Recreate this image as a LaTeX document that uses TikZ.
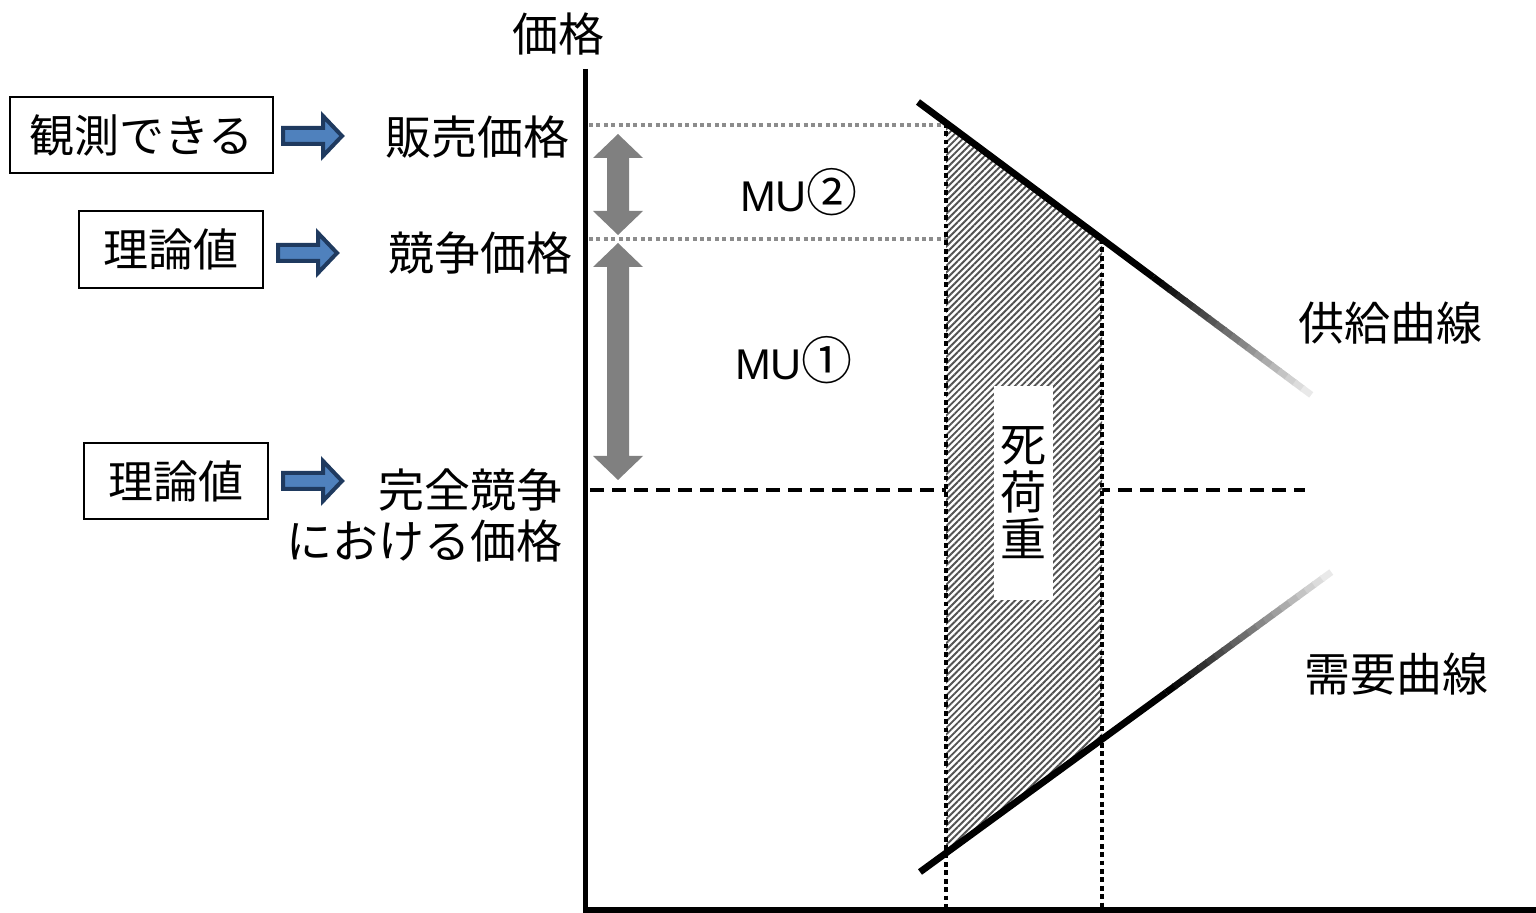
\documentclass[tikz,border=0pt]{standalone}
\usepackage{fontspec}
\setmainfont{Liberation Sans}
\newfontfamily\jp{Noto Sans CJK JP}
\usetikzlibrary{patterns.meta,calc}
\definecolor{arrowblue}{HTML}{4F81BD}
\definecolor{arrowedge}{HTML}{1F3A5F}
\definecolor{dotgray}{HTML}{8C8C8C}
\definecolor{bigarrow}{HTML}{808080}
\begin{document}
\begin{tikzpicture}[x=0.5pt,y=-0.5pt,
  jtext/.style={font=\jp\fontsize{23}{23.75}\selectfont, inner sep=0pt},
  mutext/.style={font=\fontsize{21.5}{24}\selectfont, inner sep=0pt},
  labelbox/.style={draw=black, line width=1pt, fill=white, inner sep=0pt,
    font=\jp\fontsize{22.5}{28}\selectfont},
  axisline/.style={line width=2.6pt, line cap=butt},
  curveline/.style={line width=3.4pt, line cap=butt},
  graydot/.style={draw=dotgray, line width=2pt, dash pattern=on 2pt off 1.7pt},
  blackdot/.style={draw=black, line width=2.2pt, dash pattern=on 2.4pt off 1.8pt},
  eqdash/.style={draw=black, line width=1.8pt, dash pattern=on 7pt off 4pt},
  bluearrow/.pic={\draw[fill=arrowblue, draw=arrowedge, line width=2pt, line join=miter]
      (0,-8) -- (40,-8) -- (40,-20) -- (59,0) -- (40,20) -- (40,8) -- (0,8) -- cycle;},
  grayarrow/.style={fill=bigarrow, draw=none}
]
\useasboundingbox (0,0) rectangle (1536,913);

% axes
\coordinate (ytop) at (585.5,69);
\coordinate (orig) at (585.5,910);
\coordinate (xend) at (1536,910);
\node[jtext] (ylab) at (558,34) {価格};

% key coordinates
\coordinate (s1) at (918,102);
\coordinate (s2) at (1310,394);
\coordinate (d1) at (920,872);
\coordinate (d2) at (1330,573);
\coordinate (A) at (946,122.9);
\coordinate (B) at (1102,239.1);
\coordinate (C) at (1102,739.3);
\coordinate (D) at (946,853.0);
\coordinate (Abot) at (946,908);
\coordinate (Bbot) at (1102,908);
\coordinate (p1) at (589,125);
\coordinate (p1e) at (946,125);
\coordinate (p2) at (589,239.1);
\coordinate (p2e) at (946,239.1);
\coordinate (pe1) at (590,490);
\coordinate (pe2) at (1305,490);

% perfect competition dashed line
\draw[eqdash] (pe1) -- (pe2);

% gray dotted price lines
\draw[graydot] (p1) -- (p1e);
\draw[graydot] (p2) -- (p2e);

% dead weight loss region
\fill[white] (A) -- (B) -- (C) -- (D) -- cycle;
\fill[pattern={Lines[angle=45,distance=2.3pt,line width=0.95pt]}, pattern color=black!68]
  (A) -- (B) -- (C) -- (D) -- cycle;

% vertical dotted lines
\draw[blackdot] (A) -- (Abot);
\draw[blackdot] (B) -- (Bbot);

% supply curve with fade
\draw[curveline] (s1) -- ($(s1)!0.6!(s2)$);
\foreach \i in {0,...,19}{
  \pgfmathsetmacro{\ta}{0.6+0.02*\i}
  \pgfmathsetmacro{\tb}{0.6+0.02*(\i+1)+0.003}
  \pgfmathsetmacro{\cc}{100-4.8*\i}
  \draw[curveline, draw=black!\cc] ($(s1)!\ta!(s2)$) -- ($(s1)!\tb!(s2)$);
}
% demand curve with fade
\draw[curveline] (d1) -- ($(d1)!0.6!(d2)$);
\foreach \i in {0,...,19}{
  \pgfmathsetmacro{\ta}{0.6+0.02*\i}
  \pgfmathsetmacro{\tb}{0.6+0.02*(\i+1)+0.003}
  \pgfmathsetmacro{\cc}{100-4.8*\i}
  \draw[curveline, draw=black!\cc] ($(d1)!\ta!(d2)$) -- ($(d1)!\tb!(d2)$);
}

% axes drawn on top
\draw[axisline] (ytop) -- (orig) -- (xend);

% dead weight label
\node[jtext, fill=white, minimum width=29.5pt, minimum height=107pt, align=center] (dwl) at (1023.5,493) {死\\荷\\重};

% curve labels
\node[jtext] (supplylab) at (1390,323) {供給曲線};
\node[jtext] (demandlab) at (1396,674) {需要曲線};

% MU labels
\node[mutext] (mu2) at (799,192) {MU{\jp\fontsize{25.5}{26}\selectfont ②}};
\node[mutext] (mu1) at (794,360) {MU{\jp\fontsize{25.5}{26}\selectfont ①}};

% gray double arrows
\fill[grayarrow] (618,134) -- (643,158) -- (629,158) -- (629,211) -- (643,211) -- (618,235)
  -- (593,211) -- (607,211) -- (607,158) -- (593,158) -- cycle;
\fill[grayarrow] (618,243) -- (643,267) -- (629,267) -- (629,456) -- (643,456) -- (618,480)
  -- (593,456) -- (607,456) -- (607,267) -- (593,267) -- cycle;

% price labels
\node[jtext, anchor=east] (sellp) at (570,137) {販売価格};
\node[jtext, anchor=east] (compp) at (573,253) {競争価格};
\node[jtext, anchor=east] (perf1) at (563,490) {完全競争};
\node[jtext, anchor=east] (perf2) at (563,541) {における価格};

% boxes
\node[labelbox, minimum width=131.5pt, minimum height=38pt] (obs) at (141.5,135) {観測できる};
\node[labelbox, minimum width=92pt, minimum height=38.5pt] (theo1) at (171,249.5) {理論値};
\node[labelbox, minimum width=92pt, minimum height=38pt] (theo2) at (176,481) {理論値};

% blue block arrows
\pic at (283,136) {bluearrow};
\pic at (278,253) {bluearrow};
\pic at (283,481) {bluearrow};
\end{tikzpicture}
\end{document}
